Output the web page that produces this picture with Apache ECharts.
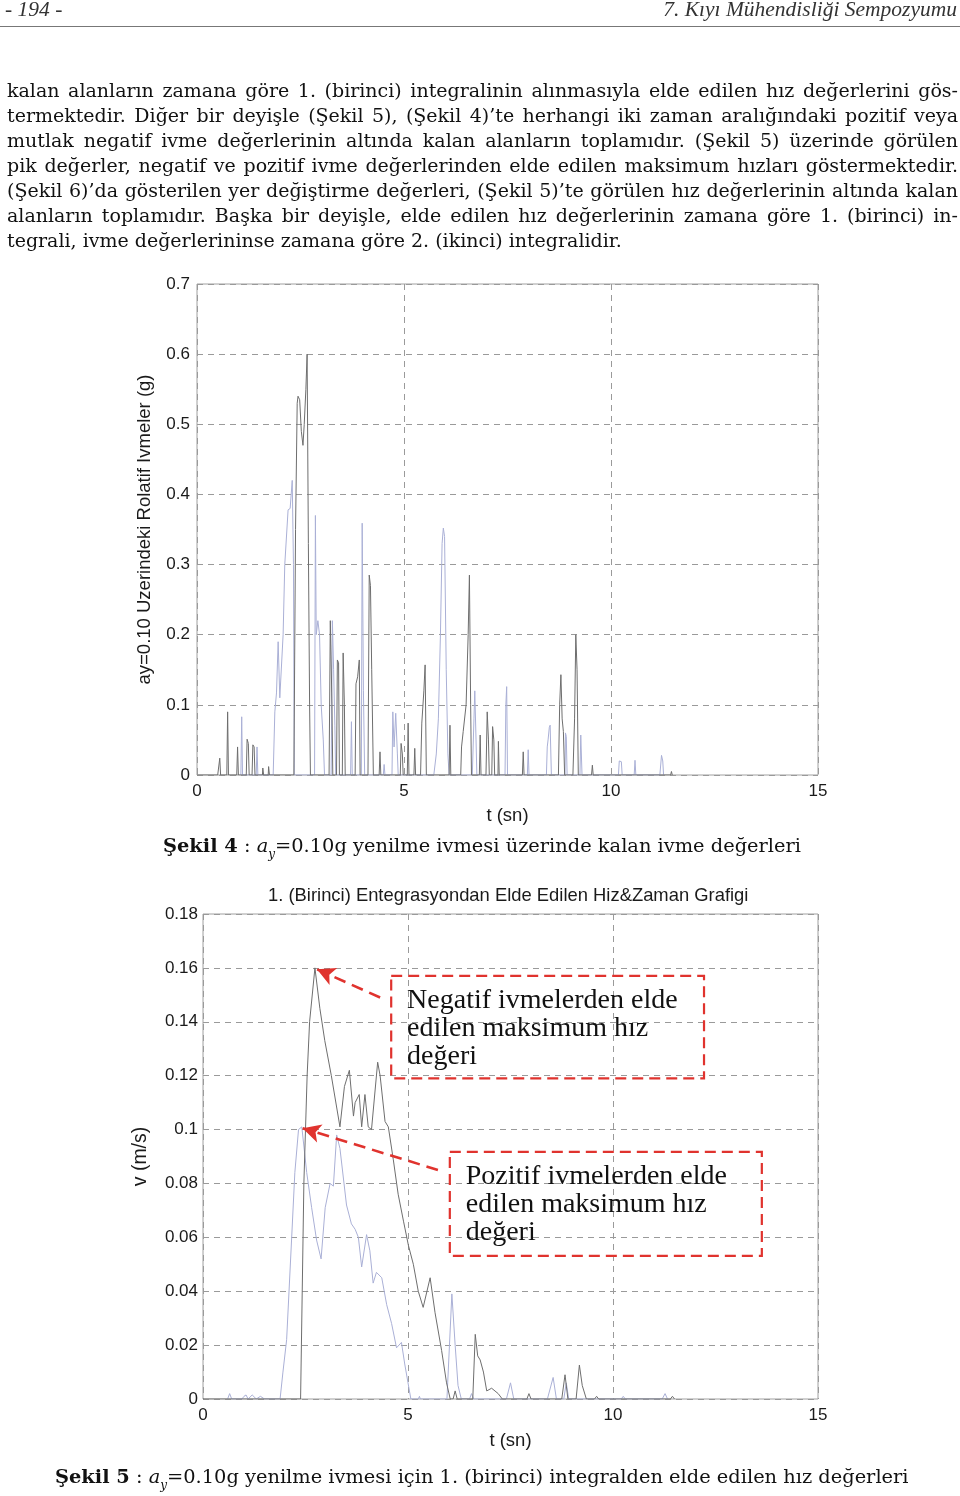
<!DOCTYPE html>
<html><head><meta charset="utf-8">
<script src="https://cdn.jsdelivr.net/npm/echarts@6/dist/echarts.min.js"></script>
<style>
html,body{margin:0;padding:0;background:#fff;}
body{width:960px;height:1496px;position:relative;overflow:hidden;}
#chart{position:absolute;left:0;top:0;width:960px;height:1496px;}
.hdr{position:absolute;top:-3px;font-family:"Liberation Serif",serif;font-style:italic;font-size:21.5px;color:#333;}
.rule{position:absolute;left:0;top:26px;width:960px;height:1px;background:#777;}
.para{position:absolute;left:7px;top:78px;width:951px;font-family:"DejaVu Serif",serif;font-size:19px;line-height:25px;color:#111;}
.para div{text-align:justify;text-align-last:justify;white-space:nowrap;}
.para div.last{text-align-last:left;}
.cap{position:absolute;font-family:"DejaVu Serif",serif;font-size:19.4px;color:#111;white-space:nowrap;}
.cap sub{font-size:12px;vertical-align:-6px;}
</style></head>
<body>
<div id="chart"></div>
<div class="hdr" style="left:5px;">- 194 -</div>
<div class="hdr" style="right:3px;">7. Kıyı Mühendisliği Sempozyumu</div>
<div class="rule"></div>
<div class="para">
<div>kalan alanların zamana göre 1. (birinci) integralinin alınmasıyla elde edilen hız değerlerini gös-</div>
<div>termektedir. Diğer bir deyişle (Şekil 5), (Şekil 4)’te herhangi iki zaman aralığındaki pozitif veya</div>
<div>mutlak negatif ivme değerlerinin altında kalan alanların toplamıdır. (Şekil 5) üzerinde görülen</div>
<div>pik değerler, negatif ve pozitif ivme değerlerinden elde edilen maksimum hızları göstermektedir.</div>
<div>(Şekil 6)’da gösterilen yer değiştirme değerleri, (Şekil 5)’te görülen hız değerlerinin altında kalan</div>
<div>alanların toplamıdır. Başka bir deyişle, elde edilen hız değerlerinin zamana göre 1. (birinci) in-</div>
<div class="last">tegrali, ivme değerlerininse zamana göre 2. (ikinci) integralidir.</div>
</div>
<div class="cap" style="left:163px;top:834px;"><b>Şekil 4</b> : <i>a</i><sub><i>y</i></sub>=0.10g yenilme ivmesi üzerinde kalan ivme değerleri</div>
<div class="cap" style="left:55px;top:1465px;"><b>Şekil 5</b> : <i>a</i><sub><i>y</i></sub>=0.10g yenilme ivmesi için 1. (birinci) integralden elde edilen hız değerleri</div>
<script>
// ---------- Şekil 4 data: [t (sn), ivme (g)] ----------
var accNegative = [
 [0,0],[0.5,0],[0.55,0.024],[0.57,0],[0.72,0],[0.74,0.09],[0.76,0],
 [0.96,0],[0.98,0.04],[1.0,0],[1.19,0],[1.21,0.051],[1.24,0.045],[1.26,0],
 [1.33,0],[1.35,0.043],[1.38,0.04],[1.40,0],[1.58,0],[1.59,0.01],[1.61,0],
 [1.72,0],[1.73,0.012],[1.75,0],
 [2.34,0],[2.38,0.35],[2.42,0.53],[2.44,0.54],[2.48,0.535],[2.52,0.49],[2.56,0.47],[2.59,0.5],[2.63,0.55],[2.66,0.6],[2.69,0.33],[2.72,0.1],[2.74,0],
 [3.19,0],[3.22,0.22],[3.26,0.1],[3.28,0],
 [3.37,0],[3.39,0.164],[3.42,0.16],[3.44,0],
 [3.51,0],[3.53,0.174],[3.56,0.1],[3.58,0],
 [3.82,0],[3.84,0.13],[3.88,0.14],[3.92,0.164],[3.94,0],
 [4.13,0],[4.16,0.285],[4.19,0.27],[4.22,0.15],[4.26,0],
 [4.40,0],[4.42,0.033],[4.44,0],
 [4.91,0],[4.93,0.045],[4.96,0.03],[4.98,0],
 [5.08,0],[5.10,0.074],[5.12,0],
 [5.24,0],[5.26,0.038],[5.28,0],
 [5.40,0],[5.43,0.074],[5.48,0.12],[5.51,0.157],[5.54,0],
 [6.09,0],[6.11,0.071],[6.13,0],
 [6.37,0],[6.39,0.04],[6.43,0.062],[6.50,0.1],[6.55,0.2],[6.58,0.285],[6.61,0.1],[6.63,0],
 [6.82,0],[6.84,0.057],[6.86,0],
 [6.98,0],[7.01,0.09],[7.04,0.05],[7.06,0],
 [7.12,0],[7.14,0.069],[7.17,0.05],[7.19,0],
 [7.27,0],[7.28,0.048],[7.30,0],
 [7.86,0],[7.88,0.033],[7.90,0],
 [8.73,0],[8.76,0.1],[8.79,0.143],[8.82,0.08],[8.85,0.062],[8.88,0],
 [9.08,0],[9.12,0.08],[9.15,0.2],[9.18,0.15],[9.21,0],
 [9.53,0],[9.55,0.014],[9.57,0],
 [11.44,0],[11.46,0.005],[11.48,0]
];
var accPositive = [
 [1.06,0],[1.08,0.083],[1.10,0],
 [1.43,0],[1.45,0.04],[1.47,0],
 [1.84,0],[1.88,0.09],[1.92,0.117],[1.96,0.19],[2.0,0.11],[2.04,0.109],[2.08,0.2],[2.12,0.3],[2.2,0.378],[2.25,0.38],[2.3,0.42],[2.33,0.3],[2.35,0],
 [2.84,0],[2.86,0.37],[2.88,0.2],[2.92,0.22],[2.96,0.2],[3.0,0.1],[3.05,0.05],[3.08,0],
 [3.24,0],[3.27,0.22],[3.30,0.15],[3.33,0.07],[3.35,0],
 [3.71,0],[3.73,0.076],[3.75,0],
 [3.97,0],[3.99,0.359],[4.02,0.12],[4.05,0],
 [4.50,0],[4.52,0.015],[4.54,0],
 [4.71,0],[4.73,0.09],[4.76,0.04],[4.80,0.088],[4.84,0.03],[4.86,0],
 [5.72,0],[5.78,0.03],[5.83,0.08],[5.88,0.2],[5.92,0.33],[5.95,0.352],[5.98,0.34],[6.02,0.15],[6.06,0.03],[6.09,0],
 [6.65,0],[6.69,0.08],[6.71,0.12],[6.74,0.05],[6.76,0],
 [7.44,0],[7.46,0.1],[7.48,0.126],[7.50,0],
 [7.98,0],[8.0,0.036],[8.02,0],
 [8.44,0],[8.46,0.04],[8.48,0.05],[8.51,0.068],[8.53,0.071],[8.56,0],
 [8.89,0],[8.90,0.06],[8.92,0.055],[8.94,0],
 [9.25,0],[9.27,0.057],[9.30,0],
 [10.18,0],[10.20,0.02],[10.25,0.019],[10.27,0],
 [10.56,0],[10.58,0.021],[10.60,0],
 [11.18,0],[11.22,0.028],[11.25,0.02],[11.27,0]
];
// ---------- Şekil 5 data: [t (sn), v (m/s)] ----------
var velNegative = [
 [0,0],[2.38,0],[2.42,0.04],[2.46,0.08],[2.54,0.12],[2.6,0.14],[2.73,0.16],[2.85,0.145],[2.97,0.133],[3.13,0.12],[3.34,0.101],
 [3.45,0.116],[3.57,0.122],[3.67,0.105],[3.71,0.11],[3.81,0.113],[3.87,0.101],[3.95,0.113],[4.03,0.101],[4.11,0.1],
 [4.26,0.125],[4.32,0.12],[4.44,0.103],[4.52,0.101],[4.64,0.089],[4.76,0.076],[4.89,0.066],[5.01,0.057],[5.13,0.05],
 [5.25,0.04],[5.37,0.034],[5.54,0.045],[5.66,0.032],[5.82,0.018],[5.94,0.006],[6.03,0],[6.10,0],[6.15,0.003],[6.2,0],
 [6.58,0],[6.64,0.024],[6.70,0.016],[6.76,0.0145],[6.84,0.01],[6.92,0.003],[7.04,0.004],[7.2,0.002],[7.3,0],
 [7.9,0],[7.95,0.002],[8.0,0],[8.75,0],[8.83,0.009],[8.9,0],[9.1,0],[9.18,0.0126],[9.25,0.005],[9.35,0],
 [9.55,0],[9.6,0.001],[9.65,0],[11.4,0],[11.45,0.001],[11.5,0]
];
var velPositive = [
 [0.6,0],[0.65,0.002],[0.7,0],[0.95,0],[1.0,0.001],[1.05,0.0015],[1.1,0],[1.2,0.0015],[1.3,0],[1.4,0.001],[1.5,0],
 [1.88,0],[1.95,0.01],[2.04,0.022],[2.16,0.059],[2.24,0.084],[2.33,0.1],[2.41,0.101],[2.53,0.084],[2.65,0.071],[2.77,0.059],
 [2.88,0.052],[2.98,0.071],[3.1,0.08],[3.18,0.079],[3.26,0.098],[3.34,0.093],[3.5,0.072],[3.62,0.065],[3.71,0.063],
 [3.79,0.06],[3.87,0.049],[3.99,0.061],[4.07,0.055],[4.15,0.043],[4.23,0.047],[4.36,0.045],[4.48,0.035],[4.6,0.028],
 [4.72,0.019],[4.84,0.021],[4.92,0.013],[5.0,0.006],[5.07,0],[5.25,0],[5.28,0.001],[5.3,0],
 [5.95,0],[6.07,0.039],[6.15,0.02],[6.22,0.005],[6.3,0],[6.5,0],[6.55,0.002],[6.6,0],
 [7.4,0],[7.5,0.006],[7.58,0],[8.4,0],[8.54,0.008],[8.62,0],[8.8,0],[8.86,0.006],[8.92,0],
 [10.2,0],[10.25,0.001],[10.3,0],[11.2,0],[11.27,0.002],[11.33,0]
];
// ---------- axis / annotation texts ----------
var xTicks = [0, 5, 10, 15];
var title2 = '1. (Birinci) Entegrasyondan Elde Edilen Hiz&Zaman Grafigi';
var yName1 = 'ay=0.10 Uzerindeki Rolatif Ivmeler (g)';
var yName2 = 'v (m/s)';
var xName = 't (sn)';
var boxNegText = 'Negatif ivmelerden elde\nedilen maksimum hız\ndeğeri';
var boxPosText = 'Pozitif ivmelerden elde\nedilen maksimum hız\ndeğeri';
var boxNeg = [[4.59, 0.157], [12.22, 0.119]];
var boxPos = [[6.02, 0.0917], [13.63, 0.0531]];
var arrowNeg = [[4.32, 0.149], [2.78, 0.1595]];
var arrowPos = [[5.73, 0.085], [2.43, 0.1005]];

var chart = echarts.init(document.getElementById('chart'), null, {renderer: 'canvas'});
var gridLine = {show: true, lineStyle: {color: '#9a9a9a', type: [6, 5], width: 1}};
var lblStyle = {color: '#1a1a1a', fontFamily: 'Liberation Sans, Arial, sans-serif', fontSize: 17};
var nameStyle = {color: '#1a1a1a', fontFamily: 'Liberation Sans, Arial, sans-serif', fontSize: 18.5};
var red = '#e0332e';
function xAx(gi){
  return {gridIndex: gi, type: 'value', min: 0, max: 15, interval: 5,
    name: xName, nameLocation: 'middle', nameGap: gi === 0 ? 31 : 32,
    nameTextStyle: nameStyle,
    axisLine: {show: false}, axisTick: {show: false},
    axisLabel: Object.assign({margin: 8, formatter: function(v){return xTicks.indexOf(v) >= 0 ? String(v) : '';}}, lblStyle),
    splitLine: gridLine};
}
chart.setOption({
  animation: false,
  title: {text: title2, left: 263, top: 882, textStyle: {fontFamily: 'Liberation Sans, Arial, sans-serif', fontSize: 18.4, fontWeight: 'normal', color: '#1a1a1a'}},
  grid: [
    {left: 197, top: 284, width: 621, height: 491, show: true, borderColor: '#a0a0a0', borderWidth: 1, backgroundColor: 'transparent'},
    {left: 203, top: 914, width: 615, height: 485, show: true, borderColor: '#a0a0a0', borderWidth: 1, backgroundColor: 'transparent'}
  ],
  xAxis: [xAx(0), xAx(1)],
  yAxis: [
    {gridIndex: 0, type: 'value', min: 0, max: 0.7, interval: 0.1,
     name: yName1, nameLocation: 'middle', nameGap: 43, nameRotate: 90,
     nameTextStyle: nameStyle,
     axisLine: {show: false}, axisTick: {show: false},
     axisLabel: Object.assign({margin: 7, formatter: function(v){return v === 0 ? '0' : String(+v.toFixed(1));}}, lblStyle),
     splitLine: gridLine},
    {gridIndex: 1, type: 'value', min: 0, max: 0.18, interval: 0.02,
     name: yName2, nameLocation: 'middle', nameGap: 52, nameRotate: 90,
     nameTextStyle: Object.assign({}, nameStyle, {fontSize: 19.5}),
     axisLine: {show: false}, axisTick: {show: false},
     axisLabel: Object.assign({margin: 5, formatter: function(v){return v === 0 ? '0' : String(+v.toFixed(2));}}, lblStyle),
     splitLine: gridLine}
  ],
  series: [
    {type: 'line', xAxisIndex: 0, yAxisIndex: 0, data: accPositive, showSymbol: false, lineStyle: {color: '#aab0d6', width: 1}, silent: true},
    {type: 'line', xAxisIndex: 0, yAxisIndex: 0, data: accNegative, showSymbol: false, lineStyle: {color: '#6e6e6e', width: 1}, silent: true},
    {type: 'line', xAxisIndex: 1, yAxisIndex: 1, data: velPositive, showSymbol: false, lineStyle: {color: '#aab0d6', width: 1}, silent: true,
     markArea: {silent: true,
       itemStyle: {color: 'rgba(0,0,0,0)', borderColor: red, borderWidth: 2.2, borderType: [11, 6]},
       label: {show: true, position: 'insideTopLeft', distance: 12, padding: [0, 0, 0, 5], color: '#111', fontFamily: 'Liberation Serif, serif', fontSize: 28, lineHeight: 28},
       data: [
         [{coord: boxNeg[0], name: boxNegText}, {coord: boxNeg[1]}],
         [{coord: boxPos[0], name: boxPosText}, {coord: boxPos[1]}]
       ]},
     markLine: {silent: true, symbol: ['none', 'arrow'], symbolSize: [14, 18],
       lineStyle: {color: red, width: 2.6, type: [12, 7]}, label: {show: false},
       data: [
         [{coord: arrowNeg[0]}, {coord: arrowNeg[1]}],
         [{coord: arrowPos[0]}, {coord: arrowPos[1]}]
       ]}},
    {type: 'line', xAxisIndex: 1, yAxisIndex: 1, data: velNegative, showSymbol: false, lineStyle: {color: '#6e6e6e', width: 1}, silent: true}
  ]
});
</script>
</body></html>
